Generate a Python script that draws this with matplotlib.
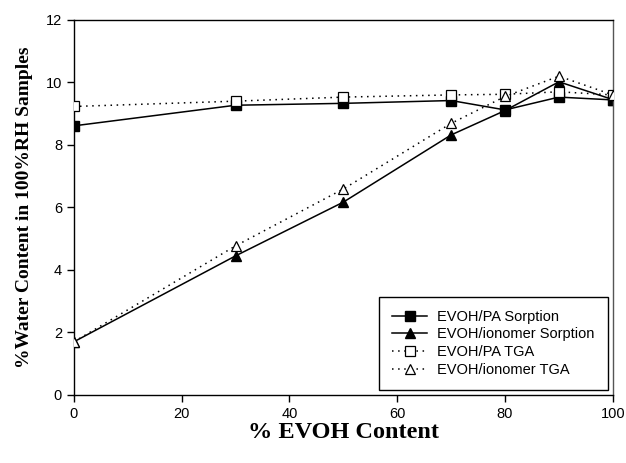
import numpy as np
import matplotlib.pyplot as plt

evoh = [0, 30, 50, 70, 80, 90, 100]
pa_sorption = [8.61, 9.27, 9.33, 9.42, 9.12, 9.53, 9.44]
ionomer_sorption = [1.7, 4.45, 6.17, 8.32, 9.1, 10.02, 9.45]
pa_tga = [9.23, 9.4, 9.53, 9.6, 9.62, 9.7, 9.6]
ionomer_tga = [1.7, 4.77, 6.59, 8.69, 9.55, 10.2, 9.6]

plt.rcParams['font.family'] = ['Liberation Sans', 'DejaVu Sans']

fig = plt.figure(figsize=(6.26, 4.63), dpi=100)
ax = fig.add_axes([0.118, 0.147, 0.861, 0.81])

dots = (0, (1, 3))
ax.plot(evoh, pa_sorption, '-', color='black', lw=1.1, marker='s', ms=6.5,
        mfc='black', mec='black', label='EVOH/PA Sorption', zorder=2)
ax.plot(evoh, ionomer_sorption, '-', color='black', lw=1.1, marker='^', ms=7.5,
        mfc='black', mec='black', label='EVOH/ionomer Sorption', zorder=2)
ax.plot(evoh, pa_tga, linestyle=dots, color='black', lw=1.1, marker='s', ms=7,
        mfc='white', mec='black', mew=0.9, label='EVOH/PA TGA', zorder=3)
ax.plot(evoh, ionomer_tga, linestyle=dots, color='black', lw=1.1, marker='^', ms=7.5,
        mfc='white', mec='black', mew=0.9, label='EVOH/ionomer TGA', zorder=3)

ax.set_xlim(0, 100)
ax.set_ylim(0, 12)
ax.set_xticks([0, 20, 40, 60, 80, 100])
ax.set_yticks([0, 2, 4, 6, 8, 10, 12])
ax.tick_params(direction='out', length=5, width=1, labelsize=10.5, colors='black')
for s in ax.spines.values():
    s.set_linewidth(1)
ax.spines['right'].set_color('#555555')

ax.set_xlabel('% EVOH Content', family='Liberation Serif', fontweight='bold',
              fontsize=17.5, labelpad=1)
ax.set_ylabel('%Water Content in 100%RH Samples', family='Liberation Serif',
              fontweight='bold', fontsize=14, labelpad=9)

leg = ax.legend(loc='lower right', fontsize=10.5, fancybox=False, edgecolor='black',
                framealpha=1, borderaxespad=0.35, handlelength=2.4, handletextpad=0.7,
                labelspacing=0.25, borderpad=0.9)
leg.get_frame().set_linewidth(1)

fig.savefig('out.png', dpi=100)
